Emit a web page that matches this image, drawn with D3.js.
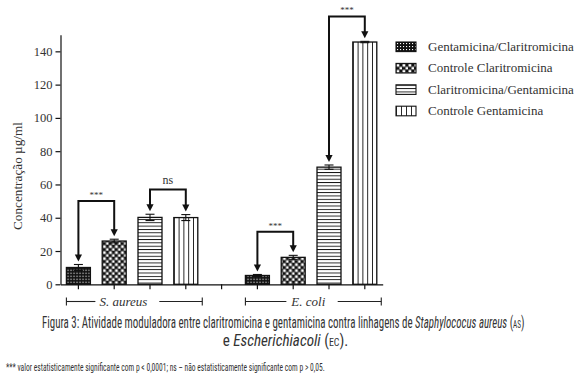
<!DOCTYPE html>
<html>
<head>
<meta charset="utf-8">
<script src="https://cdn.jsdelivr.net/npm/d3@7"></script>
<style>
  body { margin: 0; background: #fff; }
  svg { display: block; }
  .serif { font-family: "Liberation Serif", "DejaVu Serif", serif; }
  .narrow { font-family: "Liberation Sans Narrow", "Roboto Condensed", "Open Sans", sans-serif; }
</style>
</head>
<body>
<div id="chart"></div>
<script>
// series (legend order) and values
const series = ["Gentamicina/Claritromicina", "Controle Claritromicina", "Claritromicina/Gentamicina", "Controle Gentamicina"];
const groups = ["S. aureus", "E. coli"];
const saureusValues = [10.1, 26, 40.2, 40.1];
const saureusErrors = [1.8, 1.1, 1.9, 1.8];
const ecoliValues = [5.3, 16.2, 70.4, 145.6];
const ecoliErrors = [0.6, 1.2, 1.3, 0.4];
const yTicks = [0, 20, 40, 60, 80, 100, 120, 140];

// significance brackets: slot from, slot to, bracket level (µg/ml), label
const sigFrom = [0, 2, 5, 7];
const sigTo = [1, 3, 6, 8];
const sigLevel = [50, 57, 31.6, 161];
const sigLabel = ["***", "ns", "***", "***"];

const W = 575, H = 380;
const margin = { top: 34.7, left: 60.5, right: 192.3, bottom: 95.7 };
const innerW = W - margin.left - margin.right;
const innerH = H - margin.top - margin.bottom;

// 9 slots: 4 bars, one empty slot, 4 bars
const bars = [];
saureusValues.forEach((v, i) => bars.push({ slot: i, s: i, value: v, err: saureusErrors[i] }));
ecoliValues.forEach((v, i) => bars.push({ slot: i + 5, s: i, value: v, err: ecoliErrors[i] }));

const svg = d3.select("#chart").append("svg")
    .attr("width", W)
    .attr("height", H);

// fill patterns
const defs = svg.append("defs");
const dots = defs.append("pattern").attr("id", "p0")
    .attr("patternUnits", "userSpaceOnUse").attr("width", 3).attr("height", 3);
dots.append("rect").attr("width", 3).attr("height", 3).attr("fill", "#111");
dots.append("rect").attr("x", 1).attr("y", 1).attr("width", 1.1).attr("height", 1.1).attr("fill", "#fff");

const checker = defs.append("pattern").attr("id", "p1")
    .attr("patternUnits", "userSpaceOnUse").attr("width", 6).attr("height", 6);
checker.append("rect").attr("width", 6).attr("height", 6).attr("fill", "#111");
checker.append("rect").attr("x", 0.5).attr("y", 0.5).attr("width", 2.8).attr("height", 2.8).attr("fill", "#fff");
checker.append("rect").attr("x", 3.5).attr("y", 3.5).attr("width", 2.8).attr("height", 2.8).attr("fill", "#fff");

const hl = defs.append("pattern").attr("id", "p2")
    .attr("patternUnits", "userSpaceOnUse").attr("width", 10).attr("height", 3.35);
hl.append("rect").attr("width", 10).attr("height", 3.35).attr("fill", "#fff");
hl.append("rect").attr("y", 0).attr("width", 10).attr("height", 0.9).attr("fill", "#111");

function vlines(id, frac) {
    const p = defs.append("pattern").attr("id", id)
        .attr("patternUnits", "objectBoundingBox").attr("width", frac).attr("height", 1);
    p.append("rect").attr("width", 50).attr("height", 400).attr("fill", "#fff");
    p.append("rect").attr("width", 0.9).attr("height", 400).attr("fill", "#111");
}
vlines("p3", 0.2);
vlines("p3l", 0.25);
const fills = ["url(#p0)", "url(#p1)", "url(#p2)", "url(#p3)"];
const legendFills = ["url(#p0)", "url(#p1)", "url(#p2)", "url(#p3l)"];

const g = svg.append("g").attr("transform", `translate(${margin.left},${margin.top})`);

const x = d3.scaleBand()
    .domain(d3.range(9))
    .range([0, innerW])
    .paddingInner(0.33)
    .paddingOuter(0.165);
const y = d3.scaleLinear().domain([0, 150]).range([innerH, 0]);

// y axis
const yAxis = g.append("g")
    .attr("class", "serif")
    .call(d3.axisLeft(y).tickValues(yTicks).tickSize(5).tickSizeOuter(0));
yAxis.select(".domain").attr("stroke", "#111").attr("stroke-width", 1.2);
yAxis.selectAll(".tick line").attr("stroke", "#111").attr("stroke-width", 1.2);
yAxis.selectAll(".tick text")
    .attr("font-size", 12.5).attr("fill", "#333").attr("x", -8)
    .attr("font-family", "Liberation Serif, serif");

// x axis: ticks under each slot, no labels
const xAxis = g.append("g")
    .attr("transform", `translate(0,${innerH})`)
    .call(d3.axisBottom(x).tickSize(5).tickSizeOuter(0).tickFormat(""));
xAxis.select(".domain").attr("stroke", "#111").attr("stroke-width", 1.2);
xAxis.selectAll(".tick line").attr("stroke", "#111").attr("stroke-width", 1.2);

// bars
g.selectAll(".bar")
    .data(bars)
    .join("rect")
    .attr("class", "bar")
    .attr("x", d => x(d.slot))
    .attr("y", d => y(d.value))
    .attr("width", x.bandwidth())
    .attr("height", d => innerH - y(d.value))
    .attr("fill", d => fills[d.s])
    .attr("stroke", "#111")
    .attr("stroke-width", 1.3);

// error bars
const eb = g.selectAll(".err").data(bars).join("g").attr("class", "err")
    .attr("stroke", "#111").attr("stroke-width", 1.1);
const cx = d => x(d.slot) + x.bandwidth() / 2;
eb.append("line")
    .attr("x1", cx).attr("x2", cx)
    .attr("y1", d => y(d.value + d.err)).attr("y2", d => y(d.value - d.err));
eb.append("line")
    .attr("x1", d => cx(d) - 4.5).attr("x2", d => cx(d) + 4.5)
    .attr("y1", d => y(d.value + d.err)).attr("y2", d => y(d.value + d.err));
eb.append("line")
    .attr("x1", d => cx(d) - 4.5).attr("x2", d => cx(d) + 4.5)
    .attr("y1", d => y(d.value - d.err)).attr("y2", d => y(d.value - d.err));

// significance brackets with arrows
const barBySlot = new Map(bars.map(b => [b.slot, b]));
sigFrom.forEach((from, i) => {
    const a = barBySlot.get(from), b = barBySlot.get(sigTo[i]);
    const ly = y(sigLevel[i]);
    const xa = cx(a), xb = cx(b);
    const ta = y(a.value + a.err) - 3, tb = y(b.value + b.err) - 3;
    const sg = g.append("g");
    sg.append("path")
        .attr("d", `M${xa},${ta - 6}V${ly}H${xb}V${tb - 6}`)
        .attr("fill", "none").attr("stroke", "#111").attr("stroke-width", 2);
    [[xa, ta], [xb, tb]].forEach(([px, py]) => {
        sg.append("path")
            .attr("d", `M${px - 3.6},${py - 7}L${px + 3.6},${py - 7}L${px},${py}Z`)
            .attr("fill", "#111");
    });
    sg.append("text")
        .attr("class", "serif")
        .attr("x", (xa + xb) / 2)
        .attr("y", ly - (sigLabel[i] === "ns" ? 5 : 3))
        .attr("text-anchor", "middle")
        .attr("font-size", sigLabel[i] === "ns" ? 12 : 9)
        .attr("fill", "#333")
        .text(sigLabel[i]);
});

// group brackets under the axis
const groupSlots = [[0, 3], [5, 8]];
const textShift = [-11, -5];
groupSlots.forEach(([s0, s1], i) => {
    const x0 = margin.left + x(s0);
    const x1 = margin.left + x(s1) + x.bandwidth() / 2 + x.step() * 0.46;
    const by = 301.5;
    const gg = svg.append("g");
    const t = gg.append("text")
        .attr("class", "serif")
        .attr("x", (x0 + x1) / 2 + textShift[i])
        .attr("y", by + 4)
        .attr("text-anchor", "middle")
        .attr("font-size", 13)
        .attr("font-style", "italic")
        .attr("fill", "#333")
        .text(groups[i]);
    const bb = t.node().getBBox();
    const line = (xa, xb) => gg.append("line").attr("x1", xa).attr("x2", xb)
        .attr("y1", by).attr("y2", by).attr("stroke", "#222").attr("stroke-width", 1.1);
    line(x0, bb.x - 4);
    line(bb.x + bb.width + 12, x1);
    [x0, x1].forEach(xx => gg.append("line").attr("x1", xx).attr("x2", xx)
        .attr("y1", by - 4).attr("y2", by + 4).attr("stroke", "#222").attr("stroke-width", 1.1));
});

// y title
svg.append("text")
    .attr("class", "serif")
    .attr("transform", "translate(22,176) rotate(-90)")
    .attr("text-anchor", "middle")
    .attr("font-size", 13)
    .attr("fill", "#333")
    .attr("textLength", 108)
    .attr("lengthAdjust", "spacingAndGlyphs")
    .text("Concentração  µg/ml");

// legend
const legend = svg.append("g").attr("transform", "translate(396,42)");
series.forEach((s, i) => {
    const row = legend.append("g").attr("transform", `translate(0,${i * 21.4})`);
    row.append("rect")
        .attr("width", 20).attr("height", 9.6)
        .attr("fill", legendFills[i])
        .attr("stroke", "#111").attr("stroke-width", 1.1);
    row.append("text")
        .attr("class", "serif")
        .attr("x", 32).attr("y", 9)
        .attr("font-size", 13)
        .attr("fill", "#333")
        .text(s);
});

// caption and footnote (condensed sans), squeezed to the original widths
function fitText(sel, x0, width) {
    const bb = sel.node().getBBox();
    const k = width / bb.width;
    sel.attr("transform", `translate(${x0},0) scale(${k},1) translate(${-bb.x},0)`);
}
const cap1 = svg.append("text").attr("class", "narrow").attr("y", 328)
    .attr("font-size", 16).attr("fill", "#333");
cap1.append("tspan").text("Figura 3: Atividade moduladora entre claritromicina e gentamicina contra linhagens de ");
cap1.append("tspan").attr("font-style", "italic").text("Staphylococus aureus");
cap1.append("tspan").text(" (");
cap1.append("tspan").attr("font-size", 10.5).text("AS");
cap1.append("tspan").text(")");
fitText(cap1, 42, 483);

const cap2 = svg.append("text").attr("class", "narrow").attr("y", 346)
    .attr("font-size", 16).attr("fill", "#333");
cap2.append("tspan").text("e ");
cap2.append("tspan").attr("font-style", "italic").text("Escherichiacoli");
cap2.append("tspan").text(" (");
cap2.append("tspan").attr("font-size", 10.5).text("EC");
cap2.append("tspan").text(").");
fitText(cap2, 222.7, 125.6);

const foot = svg.append("text").attr("class", "narrow").attr("y", 371.5)
    .attr("font-size", 10.5).attr("fill", "#333")
    .text("*** valor estatisticamente significante com p < 0,0001; ns – não estatisticamente significante com p > 0,05.");
fitText(foot, 6, 319);
</script>
</body>
</html>
